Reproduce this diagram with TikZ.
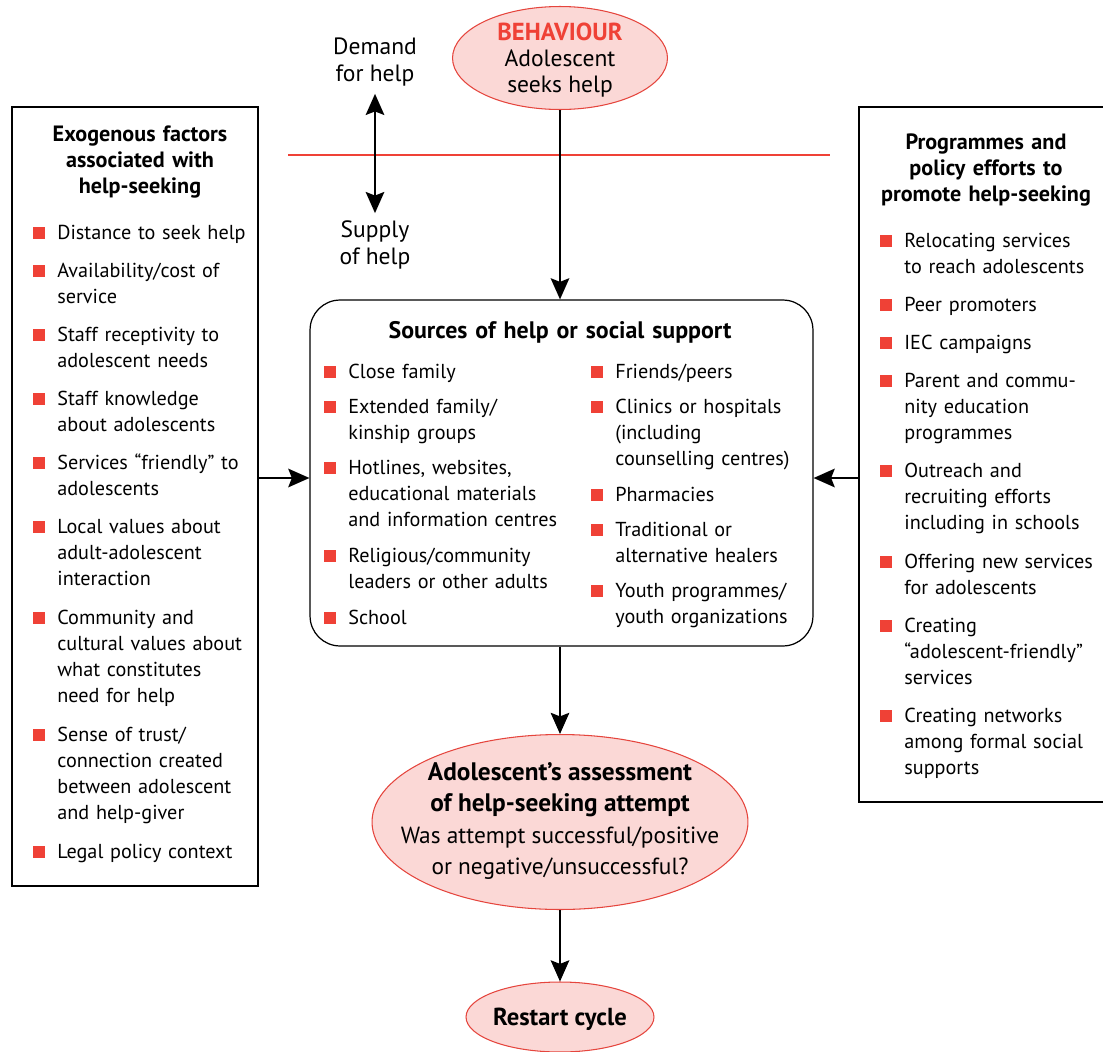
\documentclass[tikz,border=0pt]{standalone}
\usepackage{fontspec}
\setmainfont{PT Sans}
\usepackage{xcolor}
\usetikzlibrary{positioning, shapes, arrows.meta}

\definecolor{hsred}{HTML}{EF4136}
\definecolor{hspink}{HTML}{FBD8D6}
\definecolor{hsline}{HTML}{E5453D}
\newcommand{\sq}{\llap{\textcolor{hsred}{\rule{7pt}{7pt}}\hspace{6.8pt}}}

\begin{document}
\begin{tikzpicture}[x=0.02cm, y=-0.02cm,
    every node/.style={font=\fontsize{11.5}{14.9}\selectfont},
    ell/.style={ellipse, draw=hsline, fill=hspink, line width=0.6pt, inner sep=0pt},
    tip/.style={Stealth[length=12pt, width=10.5pt, inset=2pt]},
    arr/.style={-{Stealth[length=12pt, width=10.5pt, inset=2pt]}, line width=1.5pt},
    itm/.style={anchor=base west, inner sep=0pt, text width=5.5cm, align=left},
    hdr/.style={anchor=base, inner sep=0pt, text width=5.5cm, align=center,
      font=\fontsize{12.6}{14.9}\selectfont\bfseries},
    panel/.style={draw, line width=0.7pt}]
  \useasboundingbox (0,0) rectangle (1103,1052);

  % behaviour and the demand / supply line
  \node[ell, minimum width=4.3cm, minimum height=2.06cm] (beh) at (560,58) {};
  \node[align=center, font=\fontsize{13.4}{15}\selectfont] (behtxt) at (560,60)
    {\textcolor{hsred}{\fontsize{14}{15}\selectfont\bfseries BEHAVIOUR}\\Adolescent\\seeks help};
  \node[align=center, font=\fontsize{13.4}{15}\selectfont] (dem) at (375,62) {Demand\\for help};
  \node[align=center, font=\fontsize{13.4}{15}\selectfont] (sup) at (375,245) {Supply\\of help};
  \draw[hsred, line width=1.5pt] (288,155) -- (830,155);
  \draw[{Stealth[length=12pt, width=10.5pt, inset=2pt]}-{Stealth[length=12pt, width=10.5pt, inset=2pt]},
    line width=1.5pt, shorten <=1pt, shorten >=1pt] (dem) -- (sup);

  % side panels
  \node[panel, minimum width=4.92cm, minimum height=15.58cm] (lbox) at (135,496.5) {};
  \node[panel, minimum width=5.02cm, minimum height=13.9cm] (rbox) at (984.5,454.5) {};
  \node[panel, rounded corners=0.6cm, minimum width=10.06cm, minimum height=6.92cm] (src) at (561.5,473) {};

  \node[hdr] (ltitle) at (140,141) {Exogenous factors\\associated with\\help-seeking};
  \node[hdr] (rtitle) at (986,149) {Programmes and\\policy efforts to\\promote help-seeking};
  \node[hdr, text width=9cm, font=\fontsize{13.6}{15}\selectfont\bfseries] (stitle) at (560,338) {Sources of help or social support};

  \foreach \y/\t [count=\i] in {239/{Distance to seek help},
      277/{Availability/cost of\\service},
      341/{Staff receptivity to\\adolescent needs},
      405/{Staff knowledge\\about adolescents},
      469/{Services “friendly” to\\adolescents},
      533/{Local values about\\adult-adolescent\\interaction},
      624/{Community and\\cultural values about\\what constitutes\\need for help},
      741/{Sense of trust/\\connection created\\between adolescent\\and help-giver},
      858/{Legal policy context}}
    \node[itm] (lf\i) at (57,\y) {\sq\t};

  \foreach \y/\t [count=\i] in {378/{Close family},
      413/{Extended family/\\kinship groups},
      474/{Hotlines, websites,\\educational materials\\and information centres},
      562/{Religious/community\\leaders or other adults},
      624/{School}}
    \node[itm] (sl\i) at (348,\y) {\sq\t};

  \foreach \y/\t [count=\i] in {378/{Friends/peers},
      413/{Clinics or hospitals\\(including\\counselling centres)},
      501/{Pharmacies},
      536/{Traditional or\\alternative healers},
      597/{Youth programmes/\\youth organizations}}
    \node[itm] (sr\i) at (615,\y) {\sq\t};

  \foreach \y/\t [count=\i] in {247/{Relocating services\\to reach adolescents},
      311/{Peer promoters},
      349/{IEC campaigns},
      387/{Parent and commu-\\nity education\\programmes},
      477/{Outreach and\\recruiting efforts\\including in schools},
      568/{Offering new services\\for adolescents},
      632/{Creating\\“adolescent-friendly”\\services},
      722/{Creating networks\\among formal social\\supports}}
    \node[itm] (rf\i) at (904,\y) {\sq\t};

  % assessment and restart
  \node[ell, minimum width=7.52cm, minimum height=3.5cm] (assess) at (560,822) {};
  \node[align=center, font=\fontsize{13.3}{18}\selectfont] (asstxt) at (560,821)
    {{\fontsize{14.4}{18}\selectfont\bfseries Adolescent’s assessment}\\
     {\fontsize{14.4}{18}\selectfont\bfseries of help-seeking attempt}\\
     Was attempt successful/positive\\or negative/unsuccessful?};
  \node[ell, minimum width=3.76cm, minimum height=1.4cm] (rst) at (560,1017) {};
  \node[font=\fontsize{14}{18}\selectfont\bfseries] (rsttxt) at (560,1019) {Restart cycle};

  % connectors
  \coordinate (lin) at ([yshift=-0.1cm]src.west);
  \coordinate (rin) at ([yshift=-0.1cm]src.east);
  \draw[arr] (beh.south) -- (beh.south |- src.north);
  \draw[arr] (lin -| lbox.east) -- (lin);
  \draw[arr] (rin -| rbox.west) -- (rin);
  \draw[arr] (assess.north |- src.south) -- (assess.north);
  \draw[arr] (assess.south) -- (rst.north);
\end{tikzpicture}
\end{document}
